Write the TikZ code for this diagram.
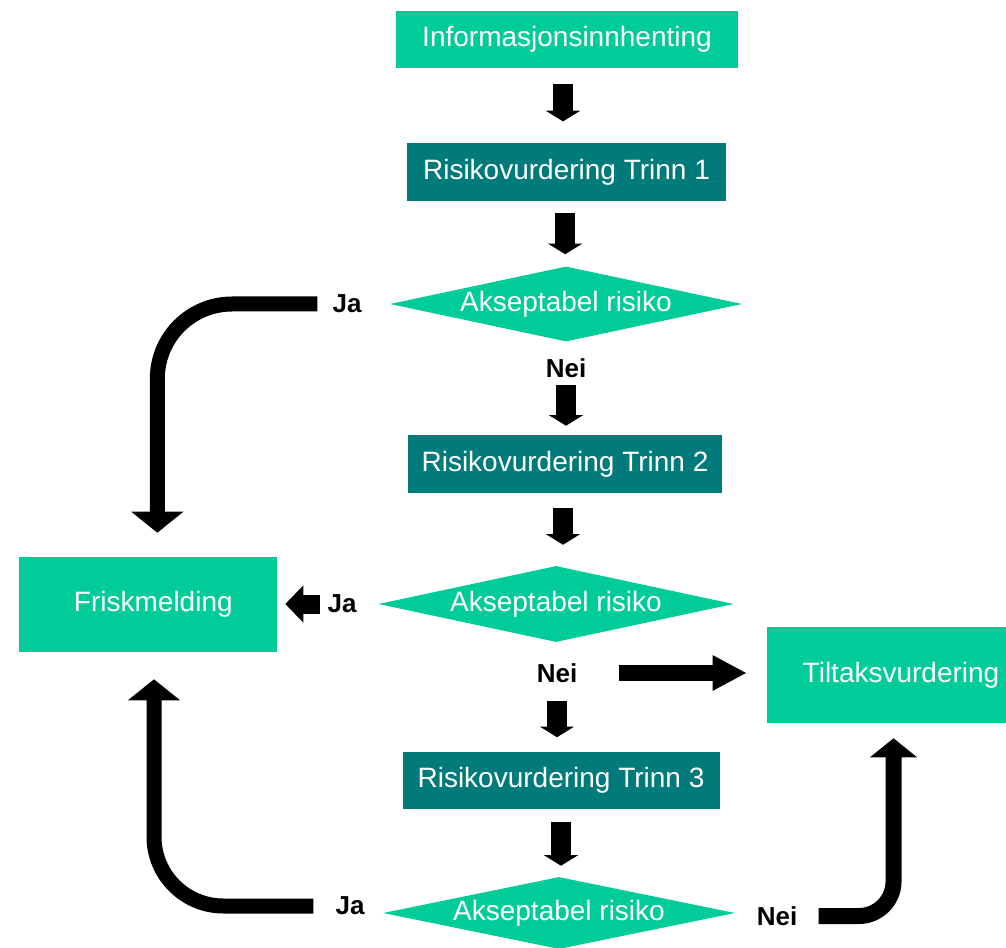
\documentclass[tikz,border=0pt]{standalone}
\usepackage{fontspec}
\setmainfont{Liberation Sans}
\usetikzlibrary{shapes.geometric,arrows.meta}

\definecolor{lysgronn}{RGB}{0,204,153}
\definecolor{morkgronn}{RGB}{0,122,122}

\tikzset{
  boks/.style={fill=lysgronn, text=white, inner sep=0pt, font=\fontsize{21}{25}\selectfont},
  trinnboks/.style={fill=morkgronn, text=white, inner sep=0pt, font=\fontsize{21}{25}\selectfont},
  rute/.style={diamond, shape aspect=4.7, fill=lysgronn, text=white, inner sep=0pt, font=\fontsize{21}{25}\selectfont},
  svar/.style={inner sep=0.75pt, font=\bfseries\fontsize{19.5}{22}\selectfont},
  kortpil/.style={line width=15pt, -{Triangle[width=25.5pt,length=8pt]}},
  buepil/.style={line width=11.25pt, -{Triangle[width=38.25pt,length=15.75pt]}}
}

\begin{document}
\begin{tikzpicture}[x=0.75pt,y=0.75pt,yscale=-1,xscale=1]
\useasboundingbox (0,0) rectangle (1006,948);

%Boxes
\node [boks, minimum width=256.5pt, minimum height=42.75pt] (info) at (567,39.5) {Informasjonsinnhenting};
\node [trinnboks, minimum width=239.25pt, minimum height=43.5pt] (trinn1) at (566.5,172) {Risikovurdering Trinn 1};
\node [trinnboks, minimum width=235.5pt, minimum height=43.5pt] (trinn2) at (565,464) {Risikovurdering Trinn 2};
\node [trinnboks, minimum width=237.75pt, minimum height=42.75pt] (trinn3) at (561,780) {Risikovurdering Trinn 3};
\node [boks, minimum width=193.5pt, minimum height=71.25pt] (frisk) at (148,604.5) {\hspace{8pt}Friskmelding};
\node [boks, minimum width=201pt, minimum height=72pt] (tiltak) at (901,675) {Tiltaksvurdering};

%Decisions
\node [rute, minimum width=264pt, minimum height=56.25pt] (rute1) at (566,304) {Akseptabel risiko};
\node [rute, minimum width=266.25pt, minimum height=57pt] (rute2) at (556,604) {Akseptabel risiko};
\node [rute, minimum width=264pt, minimum height=54pt] (rute3) at (559,913) {Akseptabel risiko};

% Text Node
\node [svar] (ja1) at (347,304) {Ja};
\node [svar] (nei1) at (566,368) {Nei};
\node [svar] (ja2) at (342,604) {Ja};
\node [svar] (nei2) at (557,673) {Nei};
\node [svar] (ja3) at (350,906) {Ja};
\node [svar] (nei3) at (777,916) {Nei};

%Straight arrows
\draw [kortpil, shorten <=12pt, shorten >=16pt] ([xshift=-3pt]info.south) -- ([xshift=-3pt]info.south |- trinn1.north);
\draw [kortpil, shorten <=9pt, shorten >=9pt] ([xshift=-1pt]trinn1.south) -- ([xshift=-1pt]trinn1.south |- rute1.north);
\draw [kortpil, shorten <=4.5pt, shorten >=6.75pt] (nei1.south) -- (nei1.south |- trinn2.north);
\draw [kortpil, shorten <=11.25pt, shorten >=15.75pt] ([xshift=-1.5pt]trinn2.south) -- ([xshift=-1.5pt]trinn2.south |- rute2.north);
\draw [kortpil, shorten <=12.75pt, shorten >=10.5pt] (nei2.south) -- (nei2.south |- trinn3.north);
\draw [kortpil, shorten <=9.75pt, shorten >=8.25pt] (trinn3.south) -- (trinn3.south |- rute3.north);
\draw [line width=14.25pt, -{Triangle[width=27pt,length=13.5pt]}, shorten <=4.5pt, shorten >=6pt] (ja2.west) -- (ja2.west -| frisk.east);
\draw [line width=12pt, -{Triangle[width=24.75pt,length=25.5pt]}, shorten <=30pt, shorten >=15pt] (nei2.east) -- (nei2.east -| tiltak.west);

%Curved arrows
\draw [buepil, rounded corners=56pt, shorten <=10.5pt, shorten >=18pt] (ja1.west) -| ([xshift=7pt]frisk.north);
\draw [buepil, rounded corners=52pt, shorten <=15.75pt, shorten >=20.25pt] (ja3.west) -| ([xshift=4.5pt]frisk.south);
\draw [line width=12pt, -{Triangle[width=34.5pt,length=14.25pt]}, rounded corners=26pt, shorten <=15pt, shorten >=11.25pt] (nei3.east) -| ([xshift=-5.6pt]tiltak.south);

\end{tikzpicture}
\end{document}
